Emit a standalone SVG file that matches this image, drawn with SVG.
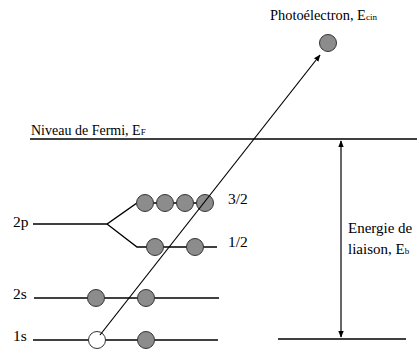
<svg xmlns="http://www.w3.org/2000/svg" width="417" height="352" viewBox="0 0 417 352">
<defs>
<marker id="ah" viewBox="0 0 10 10" refX="9" refY="5" markerWidth="7" markerHeight="7" orient="auto-start-reverse" markerUnits="userSpaceOnUse">
<path d="M0,1 L10,5 L0,9 Z" fill="#000"/>
</marker>
<style>
.t{font-family:'Liberation Serif','Times New Roman',serif;font-size:14px;fill:#000}
.lb{font-size:15.5px}
.sub{font-size:9px}
.lv{stroke:#000;stroke-width:1.3;fill:none}
.e{fill:#8c8c8c;stroke:#333;stroke-width:1}
.h{fill:#fff;stroke:#333;stroke-width:1}
</style>
</defs>
<rect width="417" height="352" fill="#fff"/>
<g id="fermi">
<line class="lv" x1="30" y1="139" x2="417" y2="139"/>
<text class="t" x="31" y="135">Niveau de Fermi, E<tspan class="sub">F</tspan></text>
</g>
<g id="level-2p">
<polyline class="lv" points="33,224 107,224 137,203 205,203"/>
<polyline class="lv" points="107,224 137,247 217,247"/>
<text class="t lb" x="13" y="227">2p</text>
<circle class="e" cx="145" cy="203" r="8.5"/>
<circle class="e" cx="165" cy="203" r="8.5"/>
<circle class="e" cx="185" cy="203" r="8.5"/>
<circle class="e" cx="205" cy="203" r="8.5"/>
<text class="t lb" x="228" y="204">3/2</text>
<circle class="e" cx="155" cy="247" r="8.5"/>
<circle class="e" cx="195" cy="247" r="8.5"/>
<text class="t lb" x="228" y="247">1/2</text>
</g>
<g id="level-2s">
<line class="lv" x1="34" y1="298" x2="219" y2="298"/>
<text class="t lb" x="13" y="299">2s</text>
<circle class="e" cx="96" cy="298" r="8.5"/>
<circle class="e" cx="146" cy="298" r="8.5"/>
</g>
<g id="level-1s">
<line class="lv" x1="33" y1="340" x2="218" y2="340"/>
<text class="t lb" x="13" y="341">1s</text>
<circle class="h" cx="97" cy="340" r="8.5"/>
<circle class="e" cx="146" cy="340" r="8.5"/>
</g>
<g id="photoelectron">
<circle class="e" cx="328" cy="43" r="8.5"/>
<text class="t" x="270" y="20" style="font-size:14.4px">Photoélectron, E<tspan class="sub">cin</tspan></text>
</g>
<g id="binding">
<line class="lv" x1="278" y1="339" x2="406" y2="339"/>
<text class="t" x="348" y="233" style="font-size:15px">Energie de</text>
<text class="t" x="348" y="254" style="font-size:15px">liaison, E<tspan class="sub">b</tspan></text>
</g>
<g id="connectors">
<line x1="100" y1="335" x2="320" y2="55" stroke="#000" stroke-width="1.2" marker-end="url(#ah)"/>
<line x1="341" y1="141" x2="341" y2="337" stroke="#000" stroke-width="1.2" marker-start="url(#ah)" marker-end="url(#ah)"/>
</g>
</svg>
